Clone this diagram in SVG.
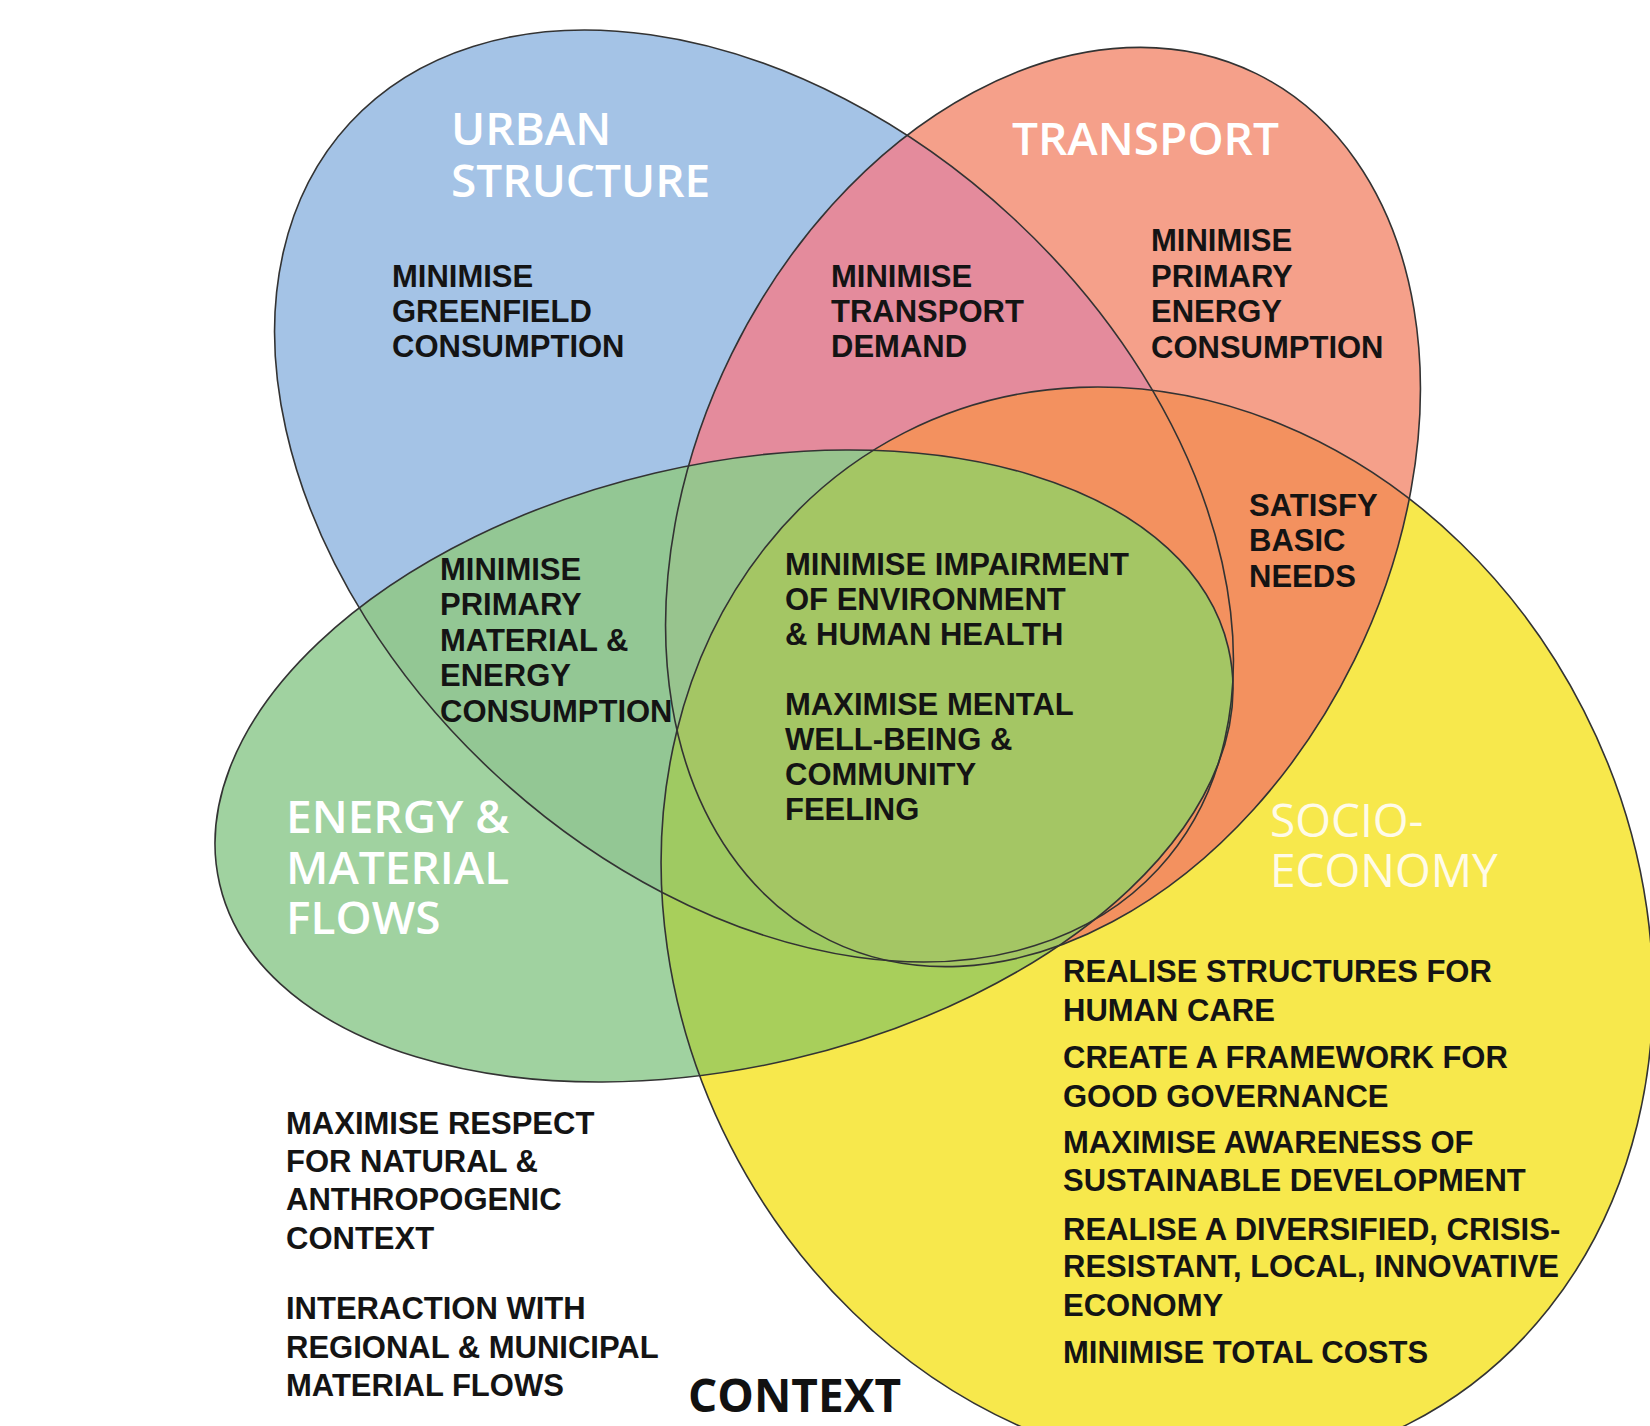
<svg xmlns="http://www.w3.org/2000/svg" width="1650" height="1426" viewBox="0 0 1650 1426">
<defs>
<style>
.t{font-family:"Liberation Sans",Arial,sans-serif;font-weight:bold;font-size:31px;fill:#141414}
.h{font-family:"Open Sans","Noto Sans",sans-serif;font-weight:600;font-size:46px;fill:#ffffff}
.c{font-family:"Open Sans","Noto Sans",sans-serif;font-weight:700;font-size:46px;fill:#111111}
.o{fill:none;stroke:#333333;stroke-width:1.6}
</style>
<clipPath id="cB"><ellipse cx="754" cy="496" rx="550" ry="380" transform="rotate(42.7 754 496)"/></clipPath>
<clipPath id="cR"><ellipse cx="1043" cy="507" rx="347" ry="483" transform="rotate(26.2 1043 507)"/></clipPath>
<clipPath id="cG"><ellipse cx="724" cy="766" rx="518" ry="301" transform="rotate(-13.2 724 766)"/></clipPath>
<clipPath id="cY"><ellipse cx="1157" cy="928" rx="479" ry="556" transform="rotate(-27 1157 928)"/></clipPath>
<ellipse id="eB" cx="754" cy="496" rx="550" ry="380" transform="rotate(42.7 754 496)"/>
<ellipse id="eR" cx="1043" cy="507" rx="347" ry="483" transform="rotate(26.2 1043 507)"/>
<ellipse id="eG" cx="724" cy="766" rx="518" ry="301" transform="rotate(-13.2 724 766)"/>
<ellipse id="eY" cx="1157" cy="928" rx="479" ry="556" transform="rotate(-27 1157 928)"/>
</defs>
<rect width="1650" height="1426" fill="#ffffff"/>
<g id="fills">
<use href="#eY" fill="#f7e84c"/>
<use href="#eB" fill="#a4c3e6"/>
<use href="#eR" fill="#f5a08a"/>
<use href="#eG" fill="#a0d2a0"/>
</g>
<g id="overlaps">
<g clip-path="url(#cB)"><use href="#eR" fill="#e48b9c"/></g>
<g clip-path="url(#cY)"><use href="#eR" fill="#f3915f"/></g>
<g clip-path="url(#cB)"><use href="#eG" fill="#93c794"/></g>
<g clip-path="url(#cY)"><use href="#eG" fill="#a8cf5b"/></g>
<g clip-path="url(#cY)"><g clip-path="url(#cB)"><use href="#eG" fill="#9fca62"/></g></g>
<g clip-path="url(#cR)"><use href="#eG" fill="#98c48e"/></g>
<g clip-path="url(#cR)"><g clip-path="url(#cY)"><use href="#eG" fill="#a4c664"/></g></g>
</g>
<g id="node-urban-structure">
<use href="#eB" class="o"/>
<text class="h"><tspan x="451" y="145">URBAN</tspan><tspan x="451" y="197">STRUCTURE</tspan></text>
<text class="t"><tspan x="392" y="287">MINIMISE</tspan><tspan x="392" y="322">GREENFIELD</tspan><tspan x="392" y="357">CONSUMPTION</tspan></text>
</g>
<g id="node-transport">
<use href="#eR" class="o"/>
<text class="h" x="1012" y="155">TRANSPORT</text>
<text class="t"><tspan x="1151" y="251">MINIMISE</tspan><tspan x="1151" y="287">PRIMARY</tspan><tspan x="1151" y="322">ENERGY</tspan><tspan x="1151" y="358">CONSUMPTION</tspan></text>
</g>
<g id="node-urban-transport">
<text class="t"><tspan x="831" y="287">MINIMISE</tspan><tspan x="831" y="322">TRANSPORT</tspan><tspan x="831" y="357">DEMAND</tspan></text>
</g>
<g id="node-energy-material-flows">
<use href="#eG" class="o"/>
<text class="h"><tspan x="286" y="833">ENERGY &amp;</tspan><tspan x="286" y="884">MATERIAL</tspan><tspan x="286" y="934">FLOWS</tspan></text>
<text class="t"><tspan x="440" y="580">MINIMISE</tspan><tspan x="440" y="615">PRIMARY</tspan><tspan x="440" y="651">MATERIAL &amp;</tspan><tspan x="440" y="686">ENERGY</tspan><tspan x="440" y="722">CONSUMPTION</tspan></text>
</g>
<g id="node-socio-economy">
<use href="#eY" class="o"/>
<text class="h" style="fill:#fffbe8;font-weight:400"><tspan x="1270" y="837">SOCIO-</tspan><tspan x="1270" y="887">ECONOMY</tspan></text>
<text class="t"><tspan x="1063" y="982">REALISE STRUCTURES FOR</tspan><tspan x="1063" y="1021">HUMAN CARE</tspan><tspan x="1063" y="1068">CREATE A FRAMEWORK FOR</tspan><tspan x="1063" y="1107">GOOD GOVERNANCE</tspan><tspan x="1063" y="1153">MAXIMISE AWARENESS OF</tspan><tspan x="1063" y="1191">SUSTAINABLE DEVELOPMENT</tspan><tspan x="1063" y="1240">REALISE A DIVERSIFIED, CRISIS-</tspan><tspan x="1063" y="1277">RESISTANT, LOCAL, INNOVATIVE</tspan><tspan x="1063" y="1316">ECONOMY</tspan><tspan x="1063" y="1363">MINIMISE TOTAL COSTS</tspan></text>
</g>
<g id="node-satisfy">
<text class="t"><tspan x="1249" y="516">SATISFY</tspan><tspan x="1249" y="551">BASIC</tspan><tspan x="1249" y="587">NEEDS</tspan></text>
</g>
<g id="node-centre">
<text class="t"><tspan x="785" y="575">MINIMISE IMPAIRMENT</tspan><tspan x="785" y="610">OF ENVIRONMENT</tspan><tspan x="785" y="645">&amp; HUMAN HEALTH</tspan><tspan x="785" y="715">MAXIMISE MENTAL</tspan><tspan x="785" y="750">WELL-BEING &amp;</tspan><tspan x="785" y="785">COMMUNITY</tspan><tspan x="785" y="820">FEELING</tspan></text>
</g>
<g id="node-context">
<text class="t"><tspan x="286" y="1134">MAXIMISE RESPECT</tspan><tspan x="286" y="1172">FOR NATURAL &amp;</tspan><tspan x="286" y="1210">ANTHROPOGENIC</tspan><tspan x="286" y="1249">CONTEXT</tspan><tspan x="286" y="1319">INTERACTION WITH</tspan><tspan x="286" y="1358">REGIONAL &amp; MUNICIPAL</tspan><tspan x="286" y="1396">MATERIAL FLOWS</tspan></text>
<text class="c" x="688" y="1412">CONTEXT</text>
</g>
</svg>
